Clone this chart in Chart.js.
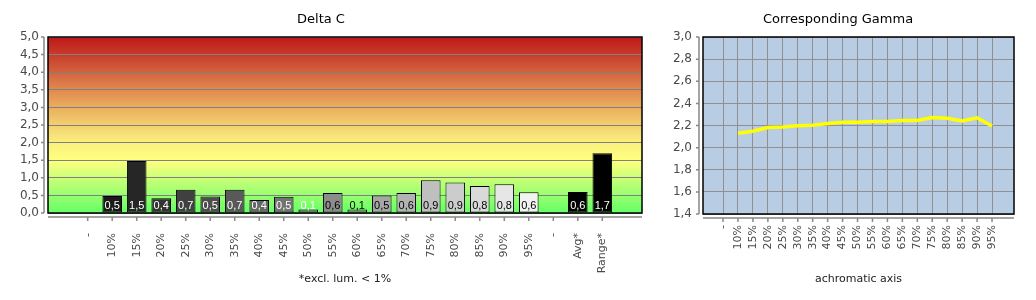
<!DOCTYPE html>
<html>
<head>
<meta charset="utf-8">
<script src="https://cdn.jsdelivr.net/npm/chart.js@4.4.1/dist/chart.umd.min.js"></script>
<style>
  body { margin: 0; background: #fff; }
  #deltaChart { position: absolute; left: 0; top: 0; }
  #gammaChart { position: absolute; left: 662px; top: 0; }
</style>
</head>
<body>
<canvas id="deltaChart" width="662" height="300"></canvas>
<canvas id="gammaChart" width="366" height="300"></canvas>
<script>
// Delta C per grey step
const deltaLabels = ['-', '10%', '15%', '20%', '25%', '30%', '35%', '40%', '45%', '50%', '55%', '60%', '65%', '70%', '75%', '80%', '85%', '90%', '95%', '-', 'Avg*', 'Range*'];
const deltaValues = [null, 0.48, 1.48, 0.42, 0.66, 0.47, 0.66, 0.37, 0.46, 0.1, 0.57, 0.1, 0.5, 0.57, 0.93, 0.87, 0.77, 0.82, 0.59, null, 0.6, 1.7];
const deltaTicks = [0, 0.5, 1, 1.5, 2, 2.5, 3, 3.5, 4, 4.5, 5];

// gamma along the achromatic axis
const gammaLabels = ['-', '10%', '15%', '20%', '25%', '30%', '35%', '40%', '45%', '50%', '55%', '60%', '65%', '70%', '75%', '80%', '85%', '90%', '95%'];
const gammaValues = [null, 2.13, 2.148, 2.182, 2.187, 2.198, 2.203, 2.218, 2.23, 2.23, 2.236, 2.236, 2.245, 2.245, 2.273, 2.266, 2.24, 2.27, 2.195];
const gammaTicks = [1.4, 1.6, 1.8, 2.0, 2.2, 2.4, 2.6, 2.8, 3.0];

// styles
const barColors = ['#000', '#1a1a1a', '#262626', '#333333', '#404040', '#4d4d4d', '#595959', '#666666', '#737373', '#808080', '#8c8c8c', '#999999', '#a6a6a6', '#b3b3b3', '#bfbfbf', '#cccccc', '#d9d9d9', '#e6e6e6', '#f2f2f2', '#000', '#000000', '#000000'];
const labelColors = deltaLabels.map((l, i) => (i <= 9 || i >= 19) ? '#fff' : '#000');
const bgStops = [[5, '#bf1818'], [4.5, '#c83c2a'], [4, '#d4623e'], [3.5, '#e08a50'], [3, '#eaae5e'], [2.5, '#f3d06e'], [2, '#faf07e'], [1.5, '#ffff80'], [1, '#ccff78'], [0.5, '#98ff70'], [0, '#64ff66']];

Chart.defaults.font.family = 'DejaVu Sans';
Chart.defaults.animation = false;

function fmt(v) {
    return v.toFixed(1).replace('.', ',');
}

const framePlugin = {
    id: 'frame',
    beforeDraw(chart, args, opts) {
        const {ctx, chartArea: a} = chart;
        ctx.save();
        if (opts.stops) {
            const y = chart.scales.y;
            const g = ctx.createLinearGradient(0, a.top, 0, a.bottom);
            opts.stops.forEach(([v, c]) => g.addColorStop((y.getPixelForValue(v) - a.top) / (a.bottom - a.top), c));
            ctx.fillStyle = g;
        } else {
            ctx.fillStyle = opts.background;
        }
        ctx.fillRect(a.left, a.top, a.right - a.left, a.bottom - a.top);
        ctx.restore();
    },
    afterDraw(chart) {
        const {ctx, chartArea: a, scales: {x, y}} = chart;
        const ax = a.left - 4;
        const ay = a.bottom + 4;
        ctx.save();
        ctx.strokeStyle = '#888';
        ctx.lineWidth = 1.5;
        ctx.beginPath();
        ctx.moveTo(ax, a.top); ctx.lineTo(ax, a.bottom);
        ctx.moveTo(a.left, ay); ctx.lineTo(a.right, ay);
        y.ticks.forEach((t, i) => {
            const p = y.getPixelForTick(i);
            ctx.moveTo(ax - 3, p); ctx.lineTo(ax, p);
        });
        x.ticks.forEach((t, i) => {
            const p = x.getPixelForTick(i);
            ctx.moveTo(p, ay); ctx.lineTo(p, ay + 4);
        });
        ctx.stroke();
        ctx.strokeStyle = '#000';
        ctx.lineWidth = 1.5;
        ctx.strokeRect(a.left, a.top, a.right - a.left, a.bottom - a.top);
        ctx.restore();
    }
};

const barLabelPlugin = {
    id: 'barLabels',
    afterDatasetsDraw(chart) {
        const {ctx, scales: {y}} = chart;
        const meta = chart.getDatasetMeta(0);
        const points = chart.data.datasets[0].data;
        ctx.save();
        ctx.font = '11px "Liberation Sans"';
        ctx.textAlign = 'center';
        ctx.textBaseline = 'middle';
        meta.data.forEach((bar, i) => {
            const p = points[i];
            ctx.fillStyle = labelColors[p.x];
            ctx.fillText(fmt(p.y), bar.x, y.getPixelForValue(0) - 7.5);
        });
        ctx.restore();
    }
};

const tickFont = {size: 11};
const tickColor = '#4a4a4a';

const deltaPoints = deltaValues.map((v, i) => ({x: i, y: v})).filter(p => p.y !== null);

new Chart(document.getElementById('deltaChart'), {
    type: 'bar',
    data: {
        datasets: [{
            data: deltaPoints,
            backgroundColor: deltaPoints.map(p => barColors[p.x]),
            borderColor: '#000',
            borderWidth: 1,
            borderSkipped: false,
            barPercentage: 0.8,
            categoryPercentage: 1
        }]
    },
    options: {
        responsive: false,
        layout: {padding: {left: 0, right: 20, top: 0, bottom: 0}},
        plugins: {
            legend: {display: false},
            tooltip: {enabled: false},
            title: {display: true, text: 'Delta C', color: '#000', font: {size: 13, weight: 'normal'}, padding: {top: 12, bottom: 9.4}},
            frame: {stops: bgStops}
        },
        scales: {
            x: {
                type: 'linear',
                offset: false,
                bounds: 'data',
                min: -1.62,
                max: 22.62,
                afterBuildTicks: s => { s.ticks = deltaLabels.map((l, i) => ({value: i})); },
                afterFit: s => { s.height = 87; },
                grid: {display: false},
                border: {display: false},
                ticks: {autoSkip: false, minRotation: 90, maxRotation: 90, padding: 12, color: tickColor, font: tickFont, callback: v => deltaLabels[v]},
                title: {display: true, text: '*excl. lum. < 1%', color: '#222', font: {size: 11}, padding: {top: 0, bottom: 14}}
            },
            y: {
                min: 0,
                max: 5,
                afterBuildTicks: s => { s.ticks = deltaTicks.map(v => ({value: v})); },
                afterFit: s => { s.width = 48; },
                grid: {color: '#808080', drawTicks: false},
                border: {display: false},
                ticks: {padding: 9, color: tickColor, font: {size: 12}, callback: v => fmt(v)}
            }
        }
    },
    plugins: [framePlugin, barLabelPlugin]
});

const gammaPoints = gammaValues.map((v, i) => ({x: i, y: v})).filter(p => p.y !== null);

new Chart(document.getElementById('gammaChart'), {
    type: 'line',
    data: {
        datasets: [{
            data: gammaPoints,
            borderColor: '#ffff00',
            borderWidth: 3.5,
            pointRadius: 0,
            tension: 0,
            fill: false
        }]
    },
    options: {
        responsive: false,
        layout: {padding: {left: 0, right: 14, top: 0, bottom: 0}},
        plugins: {
            legend: {display: false},
            tooltip: {enabled: false},
            title: {display: true, text: 'Corresponding Gamma', color: '#000', font: {size: 13, weight: 'normal'}, padding: {top: 12, bottom: 9.4}},
            frame: {background: '#b8cce4'}
        },
        scales: {
            x: {
                type: 'linear',
                offset: false,
                bounds: 'data',
                min: -1.34,
                max: 19.47,
                afterBuildTicks: s => { s.ticks = gammaLabels.map((l, i) => ({value: i})); },
                afterFit: s => { s.height = 86; },
                grid: {color: '#909090', drawTicks: false},
                border: {display: false},
                ticks: {autoSkip: false, minRotation: 90, maxRotation: 90, padding: 11, color: tickColor, font: tickFont, callback: v => gammaLabels[v]},
                title: {display: true, text: 'achromatic axis', color: '#222', font: {size: 11}, padding: {top: 0, bottom: 14}}
            },
            y: {
                min: 1.4,
                max: 3.0,
                afterBuildTicks: s => { s.ticks = gammaTicks.map(v => ({value: v})); },
                afterFit: s => { s.width = 41; },
                grid: {color: '#909090', drawTicks: false},
                border: {display: false},
                ticks: {padding: 11, color: tickColor, font: {size: 12}, callback: v => fmt(v)}
            }
        }
    },
    plugins: [framePlugin]
});
</script>
</body>
</html>
